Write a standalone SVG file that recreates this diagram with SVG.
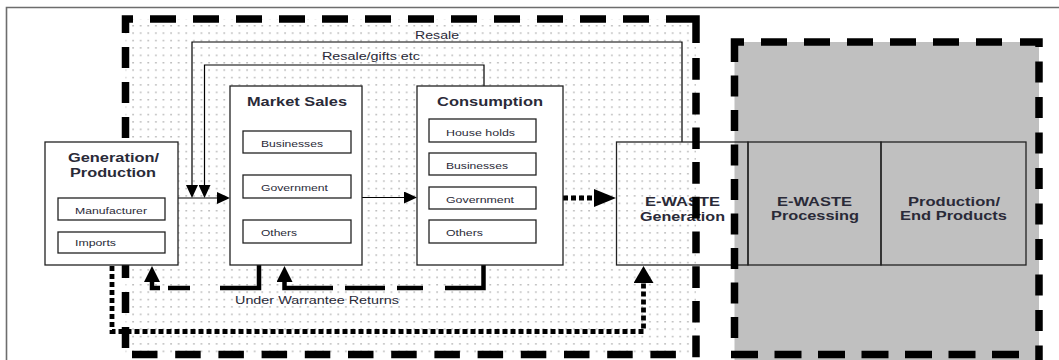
<svg xmlns="http://www.w3.org/2000/svg" width="1059" height="360" viewBox="0 0 1059 360">
  <defs>
    <pattern id="dots" width="7.6" height="7.4" patternUnits="userSpaceOnUse">
      <rect x="3" y="3" width="1.8" height="1.1" fill="#a6a6a6"/>
    </pattern>
    <marker id="ah" viewBox="0 -6 13 12" refX="0" refY="0" markerWidth="13" markerHeight="12" markerUnits="userSpaceOnUse" orient="auto">
      <path d="M0,-6 L13,0 L0,6 z" fill="#000"/>
    </marker>
    <marker id="ahBig" viewBox="0 -8 16 16" refX="0" refY="0" markerWidth="16" markerHeight="16" markerUnits="userSpaceOnUse" orient="auto">
      <path d="M0,-8 L16,0 L0,8 z" fill="#000"/>
    </marker>
    <marker id="ahDot" viewBox="0 -9 22 18" refX="0" refY="0" markerWidth="22" markerHeight="18" markerUnits="userSpaceOnUse" orient="auto">
      <path d="M0,-9 L22,0 L0,9 z" fill="#000"/>
    </marker>
    <marker id="ahUp" viewBox="0 -10 17 20" refX="0" refY="0" markerWidth="17" markerHeight="20" markerUnits="userSpaceOnUse" orient="auto">
      <path d="M0,-10 L17,0 L0,10 z" fill="#000"/>
    </marker>
  </defs>
  <style>
    .frame { fill: none; stroke: #6d6d6d; stroke-width: 1.6; }
    .box { fill: #fff; stroke: #222; stroke-width: 1.3; }
    .open { fill: none; stroke: #222; stroke-width: 1.3; }
    .dash { fill: none; stroke: #000; stroke-width: 7.5; }
    .thin { fill: none; stroke: #000; stroke-width: 1.2; }
    .warr { fill: none; stroke: #000; stroke-width: 4.5; }
    .dotted { fill: none; stroke: #000; stroke-width: 4.8; stroke-dasharray: 5 3; }
    text { font-family: "Liberation Sans", Arial, sans-serif; fill: #2a2a38; }
    .title { font-size: 13px; font-weight: bold; }
    .item { font-size: 9.5px; }
    .label { font-size: 11px; }
  </style>

  <!-- page frame -->
  <path class="frame" d="M6.5,360 V7.5 H1059"/>

  <!-- zone backgrounds -->
  <rect x="125.5" y="19" width="570.5" height="336" fill="url(#dots)"/>
  <rect x="734.5" y="42" width="304.5" height="318" fill="#c0c0c0"/>

  <!-- flows -->
  <g id="connectors">
    <path class="thin" d="M178,198 H217" marker-end="url(#ah)"/>
    <path class="thin" d="M362,197.5 H404" marker-end="url(#ah)"/>
    <path class="dotted" d="M563,198 H594" marker-end="url(#ahDot)"/>
    <path class="thin" d="M682,142 V42 H192 V185" marker-end="url(#ah)"/>
    <path class="thin" d="M484,86 V65 H204.5 V185" marker-end="url(#ah)"/>
    <path class="warr" d="M259,265 V288 H220 M190,288 H168 M160,288 H152 V282" marker-end="url(#ahBig)"/>
    <path class="warr" d="M483.5,265 V288 H445 M423,288 H397 M385,288 H345 M333,288 H284.5 V282" marker-end="url(#ahBig)"/>
    <path class="dotted" d="M112,266 V331.5 H643.5 V283" marker-end="url(#ahUp)"/>
    <text class="label" x="415" y="39" textLength="44" lengthAdjust="spacingAndGlyphs">Resale</text>
    <text class="label" x="322" y="60" textLength="98" lengthAdjust="spacingAndGlyphs">Resale/gifts etc</text>
    <text class="label" x="235" y="304" textLength="164" lengthAdjust="spacingAndGlyphs">Under Warrantee Returns</text>
  </g>

  <!-- e-waste chain -->
  <g id="ewaste-generation">
    <rect class="open" x="616.5" y="142" width="131.5" height="123"/>
    <text class="title" x="645" y="206" textLength="75" lengthAdjust="spacingAndGlyphs">E-WASTE</text>
    <text class="title" x="640" y="221" textLength="85" lengthAdjust="spacingAndGlyphs">Generation</text>
  </g>
  <g id="ewaste-processing">
    <rect class="open" x="748" y="142" width="133" height="123"/>
    <text class="title" x="777" y="206" textLength="75" lengthAdjust="spacingAndGlyphs">E-WASTE</text>
    <text class="title" x="771" y="220" textLength="88" lengthAdjust="spacingAndGlyphs">Processing</text>
  </g>
  <g id="end-products">
    <rect class="open" x="881" y="142" width="145" height="123"/>
    <text class="title" x="908" y="206" textLength="92" lengthAdjust="spacingAndGlyphs">Production/</text>
    <text class="title" x="900" y="220" textLength="107" lengthAdjust="spacingAndGlyphs">End Products</text>
  </g>

  <!-- zone borders -->
  <g id="market-zone-border">
    <path class="dash" d="M133,19 H125.5 V33"/>
    <line class="dash" x1="133" y1="19" x2="655" y2="19" stroke-dasharray="26 17" stroke-dashoffset="26"/>
    <path class="dash" d="M666,19 H696 V43"/>
    <line class="dash" x1="696" y1="45" x2="696" y2="360" stroke-dasharray="21.7 13" stroke-dashoffset="21.7"/>
    <line class="dash" x1="125.5" y1="33" x2="125.5" y2="355" stroke-dasharray="21 14" stroke-dashoffset="21"/>
    <line class="dash" x1="132" y1="354.5" x2="690" y2="354.5" stroke-dasharray="25.5 17.7"/>
  </g>
  <g id="recycling-zone-border">
    <path class="dash" d="M742,42 H734.5 V62"/>
    <line class="dash" x1="742" y1="42" x2="1016" y2="42" stroke-dasharray="26 17" stroke-dashoffset="24"/>
    <path class="dash" d="M1020,42 H1039 V47"/>
    <line class="dash" x1="1039" y1="47" x2="1039" y2="360" stroke-dasharray="21 14.5" stroke-dashoffset="21"/>
    <line class="dash" x1="734.5" y1="62" x2="734.5" y2="345" stroke-dasharray="21 13.5" stroke-dashoffset="21"/>
    <line class="dash" x1="731" y1="354.5" x2="1020" y2="354.5" stroke-dasharray="27 16.5"/>
  </g>

  <!-- source -->
  <g id="generation-production">
    <rect class="box" x="45" y="142" width="133" height="123"/>
    <text class="title" x="68" y="162" textLength="91" lengthAdjust="spacingAndGlyphs">Generation/</text>
    <text class="title" x="70" y="177" textLength="86" lengthAdjust="spacingAndGlyphs">Production</text>
    <rect class="box" x="58" y="198" width="107" height="22"/>
    <text class="item" x="75" y="213.5" textLength="72" lengthAdjust="spacingAndGlyphs">Manufacturer</text>
    <rect class="box" x="58" y="232" width="107" height="21"/>
    <text class="item" x="75" y="246" textLength="41" lengthAdjust="spacingAndGlyphs">Imports</text>
  </g>

  <g id="market-sales">
    <rect class="box" x="230" y="86" width="132" height="179"/>
    <text class="title" x="247" y="106" textLength="100" lengthAdjust="spacingAndGlyphs">Market Sales</text>
    <rect class="box" x="243" y="131" width="108" height="22"/>
    <text class="item" x="261" y="147" textLength="62" lengthAdjust="spacingAndGlyphs">Businesses</text>
    <rect class="box" x="243" y="175" width="108" height="23"/>
    <text class="item" x="261" y="191" textLength="67" lengthAdjust="spacingAndGlyphs">Government</text>
    <rect class="box" x="243" y="220" width="108" height="23"/>
    <text class="item" x="261" y="236" textLength="36" lengthAdjust="spacingAndGlyphs">Others</text>
  </g>

  <g id="consumption">
    <rect class="box" x="417" y="86" width="146" height="179"/>
    <text class="title" x="437" y="106" textLength="106" lengthAdjust="spacingAndGlyphs">Consumption</text>
    <rect class="box" x="429" y="119" width="107" height="23"/>
    <text class="item" x="446" y="136" textLength="69" lengthAdjust="spacingAndGlyphs">House holds</text>
    <rect class="box" x="429" y="153" width="107" height="22"/>
    <text class="item" x="446" y="169" textLength="62" lengthAdjust="spacingAndGlyphs">Businesses</text>
    <rect class="box" x="429" y="187" width="107" height="22"/>
    <text class="item" x="446" y="202.5" textLength="68" lengthAdjust="spacingAndGlyphs">Government</text>
    <rect class="box" x="429" y="220" width="107" height="23"/>
    <text class="item" x="446" y="236" textLength="37" lengthAdjust="spacingAndGlyphs">Others</text>
  </g>
</svg>
